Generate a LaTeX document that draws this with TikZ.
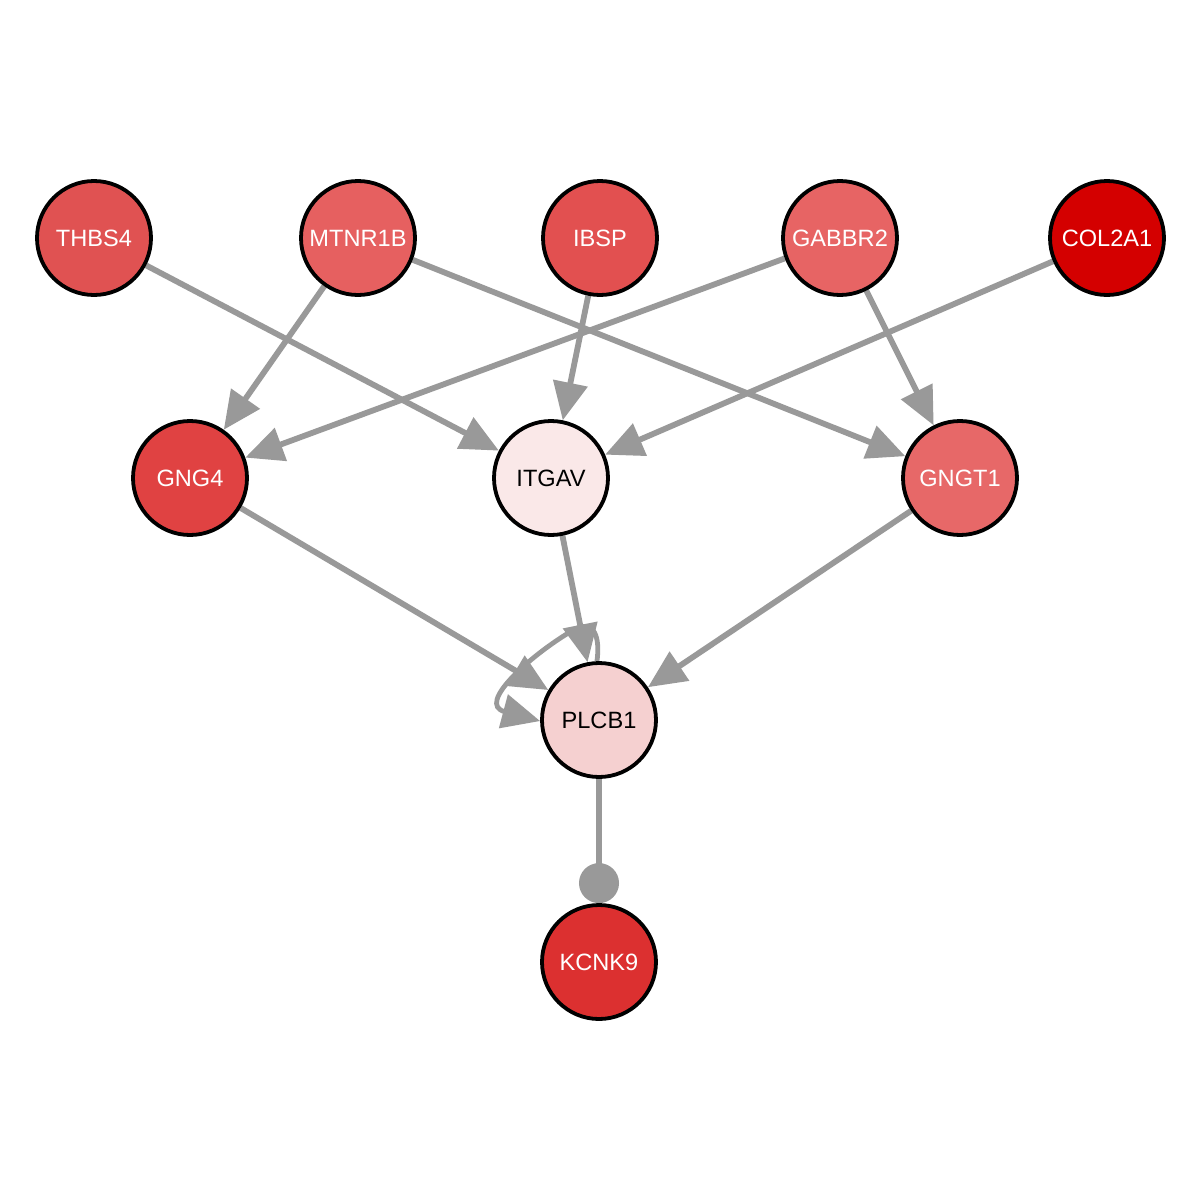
\documentclass[tikz,border=0pt]{standalone}
\usepackage{fontspec}
\setmainfont{Liberation Sans}
\usetikzlibrary{arrows.meta,backgrounds}
\definecolor{edgegray}{RGB}{153,153,153}
\definecolor{cThbs}{RGB}{224,82,82}
\definecolor{cMtnr}{RGB}{230,96,96}
\definecolor{cIbsp}{RGB}{226,80,80}
\definecolor{cGabb}{RGB}{231,100,100}
\definecolor{cCol}{RGB}{212,0,0}
\definecolor{cGng}{RGB}{224,66,66}
\definecolor{cItg}{RGB}{250,232,232}
\definecolor{cGngt}{RGB}{231,104,104}
\definecolor{cPlc}{RGB}{245,208,208}
\definecolor{cKcn}{RGB}{220,48,48}
\begin{document}
\begin{tikzpicture}[x=0.5pt,y=-0.5pt,
  gene/.style={circle,draw=black,line width=1.9pt,minimum size=57pt,inner sep=0pt,
    font=\fontsize{11.8pt}{13pt}\selectfont,text=white},
  lightgene/.style={gene,text=black},
  act/.style={draw=edgegray,line width=2.9pt,-{Triangle[length=19pt,width=17pt]}},
  bind/.style={draw=edgegray,line width=2.9pt,-{Circle[length=20pt]}}]
\useasboundingbox (0,0) rectangle (1200,1200);
% gene nodes
\node[gene,fill=cThbs] (thbs4) at (94,238) {THBS4};
\node[gene,fill=cMtnr] (mtnr1b) at (358,238) {MTNR1B};
\node[gene,fill=cIbsp] (ibsp) at (600,238) {IBSP};
\node[gene,fill=cGabb] (gabbr2) at (840,238) {GABBR2};
\node[gene,fill=cCol] (col2a1) at (1107,238) {COL2A1};
\node[gene,fill=cGng] (gng4) at (190,478) {GNG4};
\node[lightgene,fill=cItg] (itgav) at (551,478) {ITGAV};
\node[gene,fill=cGngt] (gngt1) at (960,478) {GNGT1};
\node[lightgene,fill=cPlc] (plcb1) at (599,720) {PLCB1};
\node[gene,fill=cKcn] (kcnk9) at (599,962) {KCNK9};
% interactions
\begin{scope}[on background layer]
\fill[white] (0,0) rectangle (1200,1200);
\draw[act] (thbs4) -- (itgav);
\draw[act] (mtnr1b) -- (gng4);
\draw[act] (mtnr1b) -- (gngt1);
\draw[act] (ibsp) -- (itgav);
\draw[act] (gabbr2) -- (gng4);
\draw[act] (gabbr2) -- (gngt1);
\draw[act] (col2a1) -- (itgav);
\draw[act] (gng4) -- (plcb1);
\draw[act] (itgav) -- (plcb1);
\draw[act] (gngt1) -- (plcb1);
\draw[act,line width=2.4pt] (plcb1.92) .. controls (600,640) and (596,615) .. (570,632)
  .. controls (530,656) and (476,704) .. (plcb1.181);
\draw[bind] (plcb1) -- (kcnk9);
\end{scope}
\end{tikzpicture}
\end{document}
